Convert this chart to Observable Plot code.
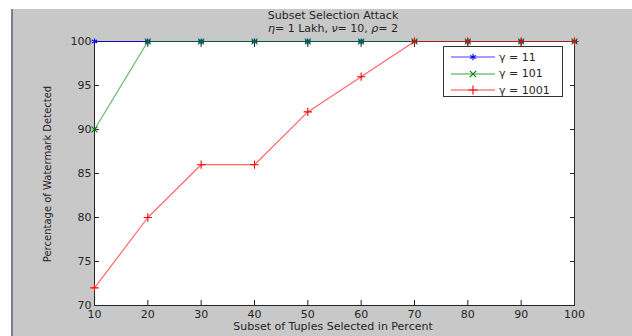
<!DOCTYPE html>
<html>
<head>
<meta charset="utf-8">
<script src="https://cdn.jsdelivr.net/npm/d3@7"></script>
<script src="https://cdn.jsdelivr.net/npm/@observablehq/plot@0.6"></script>
<style>
  html, body { margin: 0; padding: 0; background: #fff; }
  #wrap { position: relative; width: 632px; height: 336px; overflow: hidden; background: #fff; font-family: "DejaVu Sans", sans-serif; color: #262626; }
  #panel { position: absolute; left: 11px; top: 9px; right: 0; bottom: 0; background: #c8c8c8; border-left: 2px solid #7c7c94; }
  #chart { position: absolute; left: 0; top: 0; }
  .t { position: absolute; font-size: 11px; line-height: 12px; white-space: nowrap; text-align: center; }
  #legend { position: absolute; left: 443px; top: 46px; width: 118px; height: 49px; background: #fff; border: 1px solid #333; }
  .row { position: absolute; left: 0; height: 16px; display: flex; align-items: center; font-size: 11px; }
</style>
</head>
<body>
<div id="wrap">
  <div id="panel"></div>
  <div id="chart"></div>
  <div class="t" style="left:183px;top:10px;width:300px;">Subset Selection Attack</div>
  <div class="t" style="left:183px;top:23px;width:300px;"><i>η</i>= 1 Lakh, <i>ν</i>= 10, <i>ρ</i>= 2</div>
  <div class="t" style="left:183px;top:321px;width:300px;">Subset of Tuples Selected in Percent</div>
  <div class="t" style="left:-52px;top:168px;width:200px;font-size:10px;transform:rotate(-90deg);">Percentage of Watermark Detected</div>
  <div id="legend"></div>
</div>
<script>
// ---- data ----
const subsetPercent = [10, 20, 30, 40, 50, 60, 70, 80, 90, 100];
const gamma11   = [100, 100, 100, 100, 100, 100, 100, 100, 100, 100];
const gamma101  = [90, 100, 100, 100, 100, 100, 100, 100, 100, 100];
const gamma1001 = [72, 80, 86, 86, 92, 96, 100, 100, 100, 100];
const seriesNames = ["γ = 11", "γ = 101", "γ = 1001"];
const xTicks = [10, 20, 30, 40, 50, 60, 70, 80, 90, 100];
const yTicks = [70, 75, 80, 85, 90, 95, 100];

const seriesColors = ["#0000ff", "#008000", "#ff0000"];
const seriesSymbols = ["asterisk", "times", "plus"];
const seriesValues = [gamma11, gamma101, gamma1001];

const series = seriesNames.map((name, i) => ({
  name, color: seriesColors[i], symbol: seriesSymbols[i],
  data: subsetPercent.map((x, j) => ({ x, y: seriesValues[i][j] }))
}));

const marks = [
  Plot.frame({ fill: "white", stroke: "#262626" }),
  Plot.axisX({ ticks: xTicks, tickSize: -5, tickPadding: 10, label: null, tickFormat: d => String(d) }),
  Plot.axisX({ anchor: "top", ticks: xTicks, tickSize: -5, label: null, tickFormat: () => "" }),
  Plot.axisY({ ticks: yTicks, tickSize: -5, tickPadding: 8, label: null, tickFormat: d => String(d) }),
  Plot.axisY({ anchor: "right", ticks: yTicks, tickSize: -5, label: null, tickFormat: () => "" })
];
for (const s of series) {
  marks.push(Plot.line(s.data, { x: "x", y: "y", stroke: s.color, strokeWidth: 1.2, strokeOpacity: 0.6 }));
  marks.push(Plot.dot(s.data, { x: "x", y: "y", stroke: s.color, symbol: s.symbol, r: 2.8, strokeWidth: 1.1 }));
}

const chart = Plot.plot({
  width: 632, height: 336,
  marginLeft: 94, marginRight: 58, marginTop: 41, marginBottom: 31,
  style: { background: "transparent", fontFamily: "DejaVu Sans", fontSize: "11px", color: "#262626" },
  x: { domain: [10, 100] },
  y: { domain: [70, 100] },
  marks
});
document.getElementById("chart").appendChild(chart);

// ---- legend ----
const legend = document.getElementById("legend");
series.forEach((s, i) => {
  const row = document.createElement("div");
  row.className = "row";
  row.style.top = (2 + i * 16.5) + "px";
  const svg = d3.create("svg").attr("width", 55).attr("height", 16).style("display", "block");
  svg.append("line").attr("x1", 7).attr("x2", 51).attr("y1", 8).attr("y2", 8)
    .attr("stroke", s.color).attr("stroke-opacity", 0.5).attr("stroke-width", 1.5);
  const symMap = { asterisk: d3.symbolAsterisk, times: d3.symbolTimes, plus: d3.symbolPlus };
  svg.append("path").attr("d", d3.symbol(symMap[s.symbol], 28)())
    .attr("transform", "translate(29,8)").attr("fill", "none").attr("stroke", s.color).attr("stroke-width", 1.1);
  row.appendChild(svg.node());
  const label = document.createElement("span");
  label.textContent = s.name;
  row.appendChild(label);
  legend.appendChild(row);
});
</script>
</body>
</html>
